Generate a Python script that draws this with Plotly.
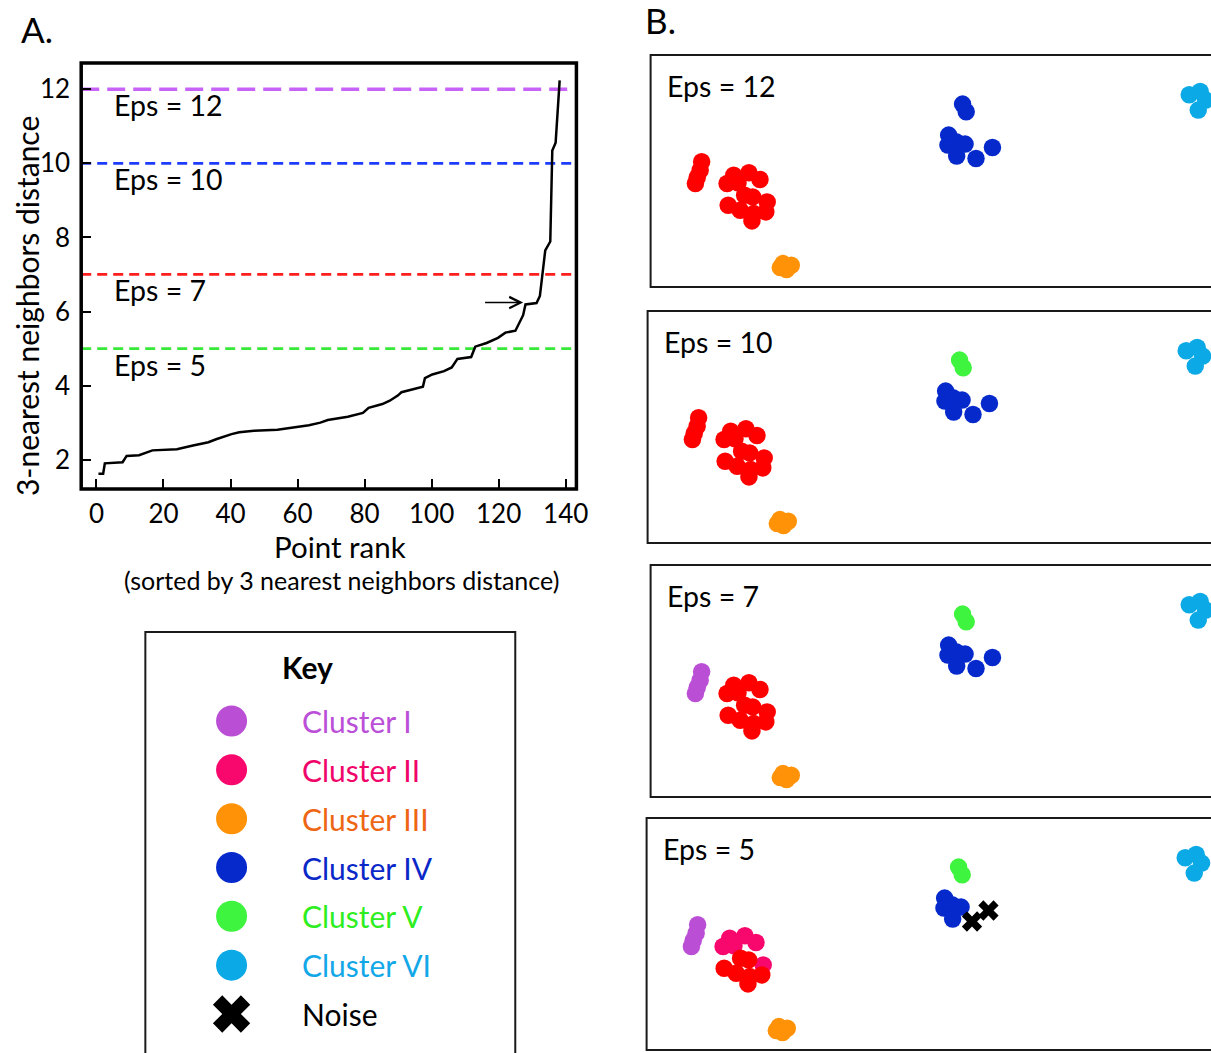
import plotly.graph_objects as go

W, H = 1211, 1053          # reference picture size (positions below are read in these pixels)
W_LAYOUT = 1226            # horizontal compensation for the capture
FONT = "Lato"

# ---------------- Panel A data ----------------
rank = [0.6, 2, 2.5, 7.8, 9, 12.7, 16.7, 24, 28.8, 33.4, 35.7, 38.6, 40.3, 42.6, 47, 54,
        60, 63.4, 66.8, 69, 75, 79.5, 81.2, 85.3, 87.5, 89.9, 91, 95.6, 97.4, 98, 100.2,
        103.7, 106, 107.7, 111.8, 113, 116.4, 119.8, 122, 125, 126, 127.3, 128, 131.3,
        132.3, 133, 133.9, 135.4, 136, 137, 138.2]
dist = [1.62, 1.62, 1.9, 1.93, 2.1, 2.12, 2.25, 2.28, 2.38, 2.47, 2.55, 2.64, 2.69, 2.74,
        2.78, 2.81, 2.88, 2.93, 3.0, 3.07, 3.16, 3.26, 3.4, 3.5, 3.59, 3.73, 3.82, 3.92,
        3.97, 4.2, 4.3, 4.39, 4.49, 4.72, 4.77, 5.05, 5.15, 5.29, 5.43, 5.48, 5.67, 5.9,
        6.19, 6.23, 6.42, 6.9, 7.65, 7.89, 10.35, 10.56, 12.24]
x_ticks = [0, 20, 40, 60, 80, 100, 120, 140]
y_ticks = [2, 4, 6, 8, 10, 12]
eps_values = [12, 10, 7, 5]
eps_colors = ["#C863F7", "#1E3CFF", "#FF1E1E", "#38E838"]
arrow_from = (115.5, 6.24)
arrow_to = (127.3, 6.24)

# ---------------- Panel B data (shared point layout) ----------------
pt_x = [50.9, 49.4, 46.5, 44.7,
        82.9, 98.1, 109.1, 76.3, 87.2, 93.8, 101.8, 116.3, 77.4, 89.4, 102.9, 114.9, 101.1,
        132.0, 140.3, 135.6, 129.4,
        311.2, 314.8,
        297.3, 296.6, 304.6, 313.7, 305.3, 324.6, 341.0,
        537.3, 548.2, 553.6, 546.3]
pt_y = [106.8, 115.2, 122.5, 128.5,
        120.2, 117.8, 124.5, 128.5, 127.8, 140.2, 141.9, 146.9, 150.2, 155.2, 158.6, 156.9, 165.9,
        208.6, 210.3, 214.6, 212.6,
        49.1, 56.7,
        80.1, 90.1, 86.8, 89.1, 101.1, 103.5, 92.5,
        39.7, 36.4, 45.1, 55.1]

labels_eps12 = ["R"] * 4 + ["R"] * 13 + ["III"] * 4 + ["IV"] * 2 + ["IV"] * 7 + ["VI"] * 4
labels_eps10 = ["R"] * 4 + ["R"] * 13 + ["III"] * 4 + ["V"] * 2 + ["IV"] * 7 + ["VI"] * 4
labels_eps7 = ["I"] * 4 + ["R"] * 13 + ["III"] * 4 + ["V"] * 2 + ["IV"] * 7 + ["VI"] * 4
labels_eps5 = (["I"] * 4
               + ["II", "II", "II", "II", "II", "R", "R", "II", "R", "R", "R", "R", "R"]
               + ["III"] * 4 + ["V"] * 2 + ["IV"] * 5 + ["N"] * 2 + ["VI"] * 4)
panel_labels = [labels_eps12, labels_eps10, labels_eps7, labels_eps5]
panel_titles = ["Eps = 12", "Eps = 10", "Eps = 7", "Eps = 5"]

cluster_colors = {"R": "#FF0000", "I": "#BA4FD6", "II": "#F8086C", "III": "#FF9207",
                  "IV": "#0629CC", "V": "#3EF43E", "VI": "#0BA9E6", "N": "#000000"}
draw_order = ["I", "II", "R", "III", "IV", "V", "VI", "N"]

# ---------------- Key data ----------------
key_names = ["Cluster I", "Cluster II", "Cluster III", "Cluster IV", "Cluster V", "Cluster VI", "Noise"]
key_marker_colors = ["#BA4FD6", "#F8086C", "#FF9207", "#0629CC", "#3EF43E", "#0BA9E6", "#000000"]
key_text_colors = ["#BB4FD8", "#F0056A", "#EE6614", "#0A28C8", "#2EEE22", "#12A8E8", "#000000"]


def px(x):
    return x / W


def py(y):
    return 1 - y / H


fig = go.Figure()

# Panel A curve
fig.add_trace(go.Scatter(x=rank, y=dist, mode="lines", line=dict(color="black", width=2.5),
                         xaxis="x", yaxis="y", showlegend=False, hoverinfo="skip"))

shapes = []
annotations = []

# eps dashed lines
dashes = ["18px,8px", "10px,6px", "10px,6px", "10px,6px"]
widths = [3.5, 2.8, 2.8, 2.8]
for v, c, d, w in zip(eps_values, eps_colors, dashes, widths):
    shapes.append(dict(type="line", xref="x domain", yref="y", x0=0, x1=1, y0=v, y1=v,
                       line=dict(color=c, width=w, dash=d), layer="below"))
    annotations.append(dict(x=4.6, y=v, xref="x", yref="y", text=f"Eps = {v}", showarrow=False,
                            xanchor="left", yanchor="middle", yshift=-16,
                            font=dict(family=FONT, size=28.5, color="black")))

# arrow
annotations.append(dict(x=arrow_to[0], y=arrow_to[1], ax=arrow_from[0], ay=arrow_from[1],
                        xref="x", yref="y", axref="x", ayref="y", text="", showarrow=True,
                        arrowhead=5, arrowsize=1.5, arrowwidth=1.5, arrowcolor="black"))

# panel A frame
shapes.append(dict(type="rect", xref="paper", yref="paper", x0=px(81), x1=px(575), y0=py(489), y1=py(63),
                   line=dict(color="black", width=3.5)))


def ptext(x, y, text, size, angle=0):
    return dict(x=px(x), y=py(y), xref="paper", yref="paper", text=text, showarrow=False,
                xanchor="center", yanchor="middle", textangle=angle, borderpad=0,
                font=dict(family=FONT, size=size, color="black"))


annotations += [
    ptext(27, 306, "3-nearest neighbors distance", 30, -90),
    ptext(339, 546.5, "Point rank", 29.5),
    ptext(341, 579.5, "(sorted by 3 nearest neighbors distance)", 25),
    ptext(37, 29, "A.", 35),
    ptext(659, 20, "B.", 35),
    ptext(307, 667, "<b>Key</b>", 30),
]

layout_axes = {}
layout_axes["xaxis"] = dict(domain=[px(81), px(575)], range=[-4.55, 143.2], anchor="y",
                            tickvals=x_ticks, ticks="inside", ticklen=10, tickwidth=2, tickcolor="black",
                            showgrid=False, zeroline=False, showline=False,
                            tickfont=dict(family=FONT, size=26, color="black"), ticklabelstandoff=7)
layout_axes["yaxis"] = dict(domain=[py(489), py(63)], range=[1.207, 12.71], anchor="x",
                            tickvals=y_ticks, ticks="inside", ticklen=10, tickwidth=2, tickcolor="black",
                            showgrid=False, zeroline=False, showline=False,
                            tickfont=dict(family=FONT, size=26, color="black"), ticklabelstandoff=10)

# Panel B
boxes = [(649, 55, 287), (646, 311, 543), (649, 565, 797), (645, 818, 1050)]
for i, ((left, top, bottom), labels, title) in enumerate(zip(boxes, panel_labels, panel_titles)):
    n = i + 2
    xa, ya = f"x{n}", f"y{n}"
    layout_axes[f"xaxis{n}"] = dict(domain=[px(left), 1], range=[0, W - left], anchor=ya, visible=False,
                                    showgrid=False, zeroline=False)
    layout_axes[f"yaxis{n}"] = dict(domain=[py(bottom), py(top)], range=[bottom - top, 0], anchor=xa,
                                    visible=False, showgrid=False, zeroline=False)
    for lab in draw_order:
        xs = [x for x, l in zip(pt_x, labels) if l == lab]
        ys = [y for y, l in zip(pt_y, labels) if l == lab]
        if not xs:
            continue
        if lab == "N":
            marker = dict(symbol="x", size=18, color="black", line=dict(width=0))
        else:
            marker = dict(symbol="circle", size=17.5, color=cluster_colors[lab], line=dict(width=0))
        fig.add_trace(go.Scatter(x=xs, y=ys, mode="markers", marker=marker, xaxis=xa, yaxis=ya,
                                 showlegend=False, hoverinfo="skip", cliponaxis=False))
    shapes.append(dict(type="rect", xref="paper", yref="paper", x0=px(left), x1=px(1300),
                       y0=py(bottom), y1=py(top), line=dict(color="#1a1a1a", width=2)))
    annotations.append(dict(x=14, y=31, xref=xa, yref=ya, text=title, showarrow=False,
                            xanchor="left", yanchor="middle",
                            font=dict(family=FONT, size=28.5, color="black")))

# Key
layout_axes["xaxis6"] = dict(domain=[px(145), px(514)], range=[0, 369], anchor="y6", visible=False)
layout_axes["yaxis6"] = dict(domain=[py(1038.4), py(696.6)], range=[6.5, -0.5], anchor="x6", visible=False)
rows = list(range(len(key_names)))
fig.add_trace(go.Scatter(x=[86] * 6, y=rows[:6], mode="markers", xaxis="x6", yaxis="y6",
                         marker=dict(symbol="circle", size=31, color=key_marker_colors[:6], line=dict(width=0)),
                         showlegend=False, hoverinfo="skip", cliponaxis=False))
fig.add_trace(go.Scatter(x=[86], y=[rows[6]], mode="markers", xaxis="x6", yaxis="y6",
                         marker=dict(symbol="x", size=33, color="black", line=dict(width=0)),
                         showlegend=False, hoverinfo="skip", cliponaxis=False))
for r, name, tc in zip(rows, key_names, key_text_colors):
    annotations.append(dict(x=154, y=r, xref="x6", yref="y6", text=name, showarrow=False,
                            xanchor="left", yanchor="middle", font=dict(family=FONT, size=30, color=tc)))
shapes.append(dict(type="rect", xref="paper", yref="paper", x0=px(145), x1=px(514),
                   y0=py(1080), y1=py(632), line=dict(color="#1a1a1a", width=2)))

fig.update_layout(width=W_LAYOUT, height=H, margin=dict(l=0, r=0, t=0, b=0),
                  paper_bgcolor="white", plot_bgcolor="rgba(0,0,0,0)",
                  shapes=shapes, annotations=annotations, showlegend=False, **layout_axes)

fig.write_html("out.html", config={"displayModeBar": False, "responsive": False},
               post_script=("document.documentElement.style.margin='0px';"
                            "document.documentElement.style.overflow='hidden';"
                            "document.body.style.margin='0px';"
                            "document.body.style.overflow='hidden';"))
